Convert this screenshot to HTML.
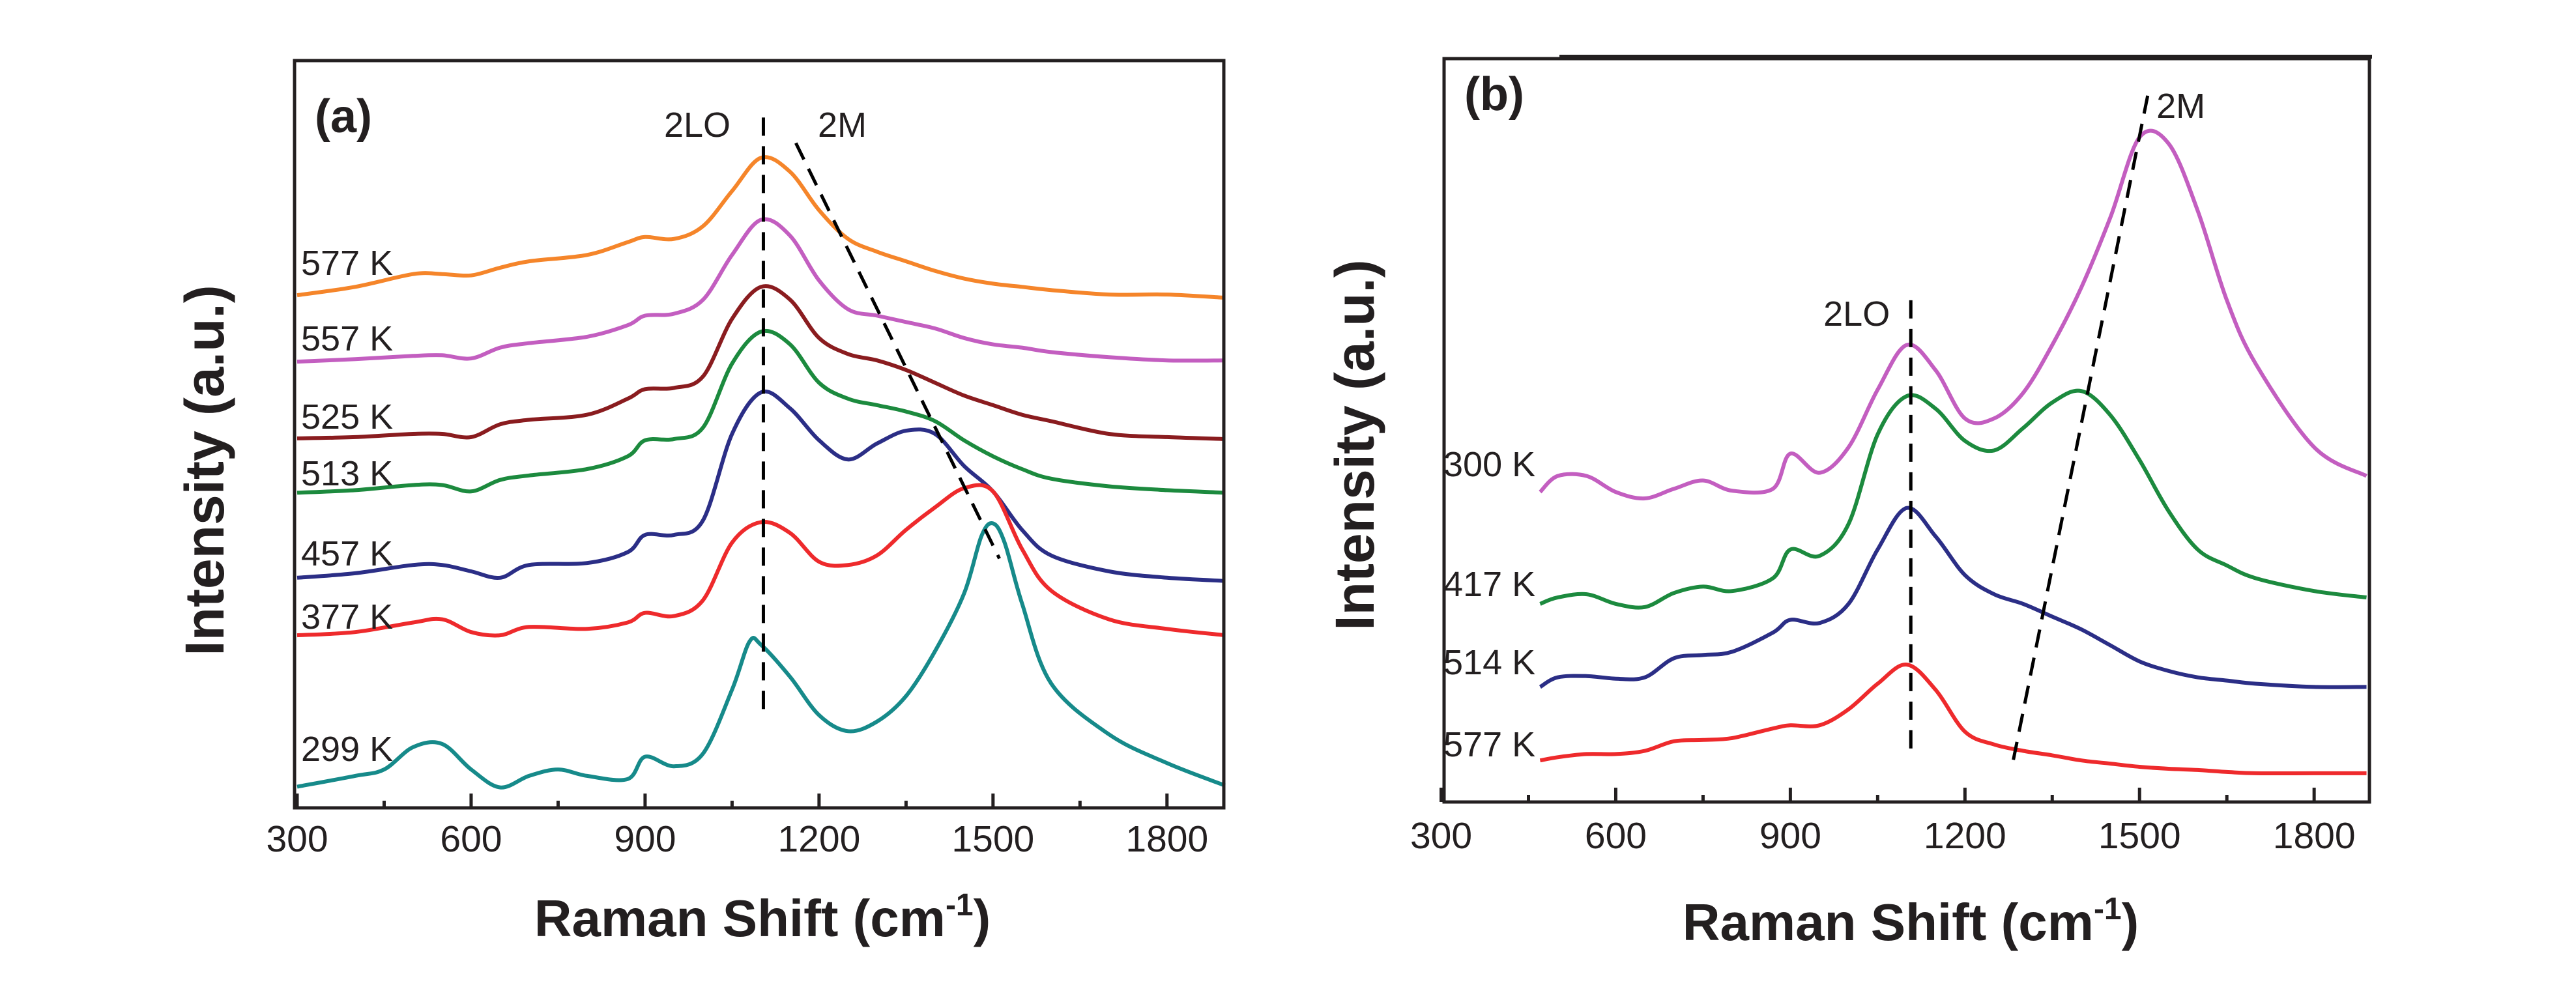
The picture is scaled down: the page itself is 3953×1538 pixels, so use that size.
<!DOCTYPE html>
<html><head><meta charset="utf-8"><style>
html,body{margin:0;padding:0;background:#fff;}
svg{display:block;font-family:"Liberation Sans",sans-serif;}
</style></head><body>
<svg id="fig" width="3953" height="1538" viewBox="0 0 3953 1538" xmlns="http://www.w3.org/2000/svg"></svg>
<script>
// ---------- Panel (a) data ----------
const xA = [300,400,500,550,600,650,700,800,870,900,950,1000,1050,1100,1150,1200,1250,1300,1350,1400,1450,1500,1550,1600,1700,1800,1900];
const a577 = [463,450,430,430,432,420,410,400,380,372,375,355,300,248,270,330,375,395,410,425,437,445,450,455,462,462,467];
const a557 = [567,563,558,557,562,545,538,528,510,495,492,470,400,345,370,440,485,495,505,515,530,540,545,552,560,565,565];
const a525 = [687,685,680,680,685,665,658,650,625,610,608,590,500,450,470,530,555,565,580,600,620,635,650,660,680,685,688];
const a513 = [772,768,760,760,770,752,745,735,715,690,688,670,570,520,540,600,625,635,645,660,690,715,735,750,762,768,772];
const a457 = [905,898,885,885,895,905,885,882,865,838,838,815,680,615,640,690,720,695,675,680,730,770,830,870,895,905,910];
const a377 = [995,990,975,970,990,995,982,985,975,960,965,940,850,818,835,880,885,870,830,795,765,770,860,925,970,985,995];
const xA299 = [300,400,450,500,550,600,650,700,750,800,870,900,950,1000,1050,1080,1100,1150,1200,1250,1300,1350,1400,1450,1480,1500,1520,1550,1600,1700,1800,1900];
const a299 = [1232,1215,1205,1170,1165,1205,1233,1215,1205,1215,1220,1185,1200,1180,1080,1005,1010,1060,1120,1145,1130,1090,1020,930,840,820,850,945,1070,1150,1195,1230];
const seriesA = [
 {name:'577 K', x:xA, v:a577, c:'#f5852a', lab:422},
 {name:'557 K', x:xA, v:a557, c:'#c35ec0', lab:538},
 {name:'525 K', x:xA, v:a525, c:'#8a1c1f', lab:658},
 {name:'513 K', x:xA, v:a513, c:'#1c8a3e', lab:745},
 {name:'457 K', x:xA, v:a457, c:'#2b2e86', lab:868},
 {name:'377 K', x:xA, v:a377, c:'#ee2a2c', lab:965},
 {name:'299 K', x:xA299, v:a299, c:'#168a8a', lab:1168}
];
// ---------- Panel (b) data ----------
const xB = [470,500,550,600,650,700,750,800,870,900,950,1000,1050,1100,1150,1200,1250,1300,1350,1400,1450,1500,1550,1600,1650,1700,1800,1890];
const b300 = [770,745,745,770,780,765,752,768,765,710,740,700,610,540,580,655,655,615,540,450,340,215,225,330,470,570,700,745];
const b417 = [945,935,930,945,950,928,918,925,905,860,870,820,680,620,640,690,705,670,630,612,650,720,800,860,885,905,925,935];
const b514 = [1075,1060,1058,1062,1060,1030,1025,1020,990,970,975,945,860,795,840,900,930,945,965,985,1010,1035,1050,1060,1065,1070,1075,1075];
const b577 = [1190,1185,1180,1180,1175,1160,1158,1155,1140,1135,1135,1110,1070,1040,1080,1145,1165,1175,1182,1190,1195,1200,1203,1205,1208,1210,1210,1210];
const seriesB = [
 {name:'300 K', v:b300, c:'#c35ec0', lab:731},
 {name:'417 K', v:b417, c:'#1c8a3e', lab:915},
 {name:'514 K', v:b514, c:'#2b2e86', lab:1035},
 {name:'577 K', v:b577, c:'#ee2a2c', lab:1161}
];
const xTicks = [300,600,900,1200,1500,1800];
const xMinor = [450,750,1050,1350,1650];

const NS='http://www.w3.org/2000/svg';
const svg=document.getElementById('fig');
function el(tag,attrs,parent){const e=document.createElementNS(NS,tag);for(const k in attrs)e.setAttribute(k,attrs[k]);(parent||svg).appendChild(e);return e;}

function smoothPath(pts){
  let d='M'+pts[0][0].toFixed(1)+','+pts[0][1].toFixed(1);
  for(let i=0;i<pts.length-1;i++){
    const p0=pts[i-1]||pts[i],p1=pts[i],p2=pts[i+1],p3=pts[i+2]||p2;
    const c1x=p1[0]+(p2[0]-p0[0])/6,c1y=p1[1]+(p2[1]-p0[1])/6;
    const c2x=p2[0]-(p3[0]-p1[0])/6,c2y=p2[1]-(p3[1]-p1[1])/6;
    d+=' C'+c1x.toFixed(1)+','+c1y.toFixed(1)+' '+c2x.toFixed(1)+','+c2y.toFixed(1)+' '+p2[0].toFixed(1)+','+p2[1].toFixed(1);
  }
  return d;
}

function panel(cfg){
  const g=el('g',{});
  
  
  const X=v=>cfg.L+(v-cfg.x0)*(cfg.R-cfg.L)/(cfg.x1-cfg.x0);
  const Y=v=>cfg.B-(v-cfg.vb)*(cfg.B-cfg.T)/(cfg.vt-cfg.vb);
  cfg.series.forEach(s=>{
    const xs=s.x||cfg.xs;
    const pts=xs.map((x,i)=>[X(x),Y(cfg.conv(s.v[i]))]);
    const p=el('path',{d:smoothPath(pts),fill:'none',stroke:s.c,'stroke-width':6,'stroke-linejoin':'round'},g);
    
    
    const t=el('text',{x:cfg.labX,y:s.lab,'font-size':54,fill:'#231f20'},g);
    t.textContent=s.name;
    
    
  });
  cfg.guides.forEach(gd=>{
    const l=el('line',{x1:X(gd[0]),y1:Y(gd[1]),x2:X(gd[2]),y2:Y(gd[3]),stroke:'#000','stroke-width':5,'stroke-dasharray':'28,16'},g);
    
    
  });
  cfg.notes.forEach(n=>{
    const t=el('text',{x:X(n[0]),y:Y(n[1]),'font-size':54,fill:'#231f20','text-anchor':n[3]},g);
    t.textContent=n[2];
    
    
  });
  const f=el('rect',{x:cfg.L,y:cfg.T,width:cfg.R-cfg.L,height:cfg.B-cfg.T,fill:'none',stroke:'#231f20','stroke-width':5},g);
  
  
  xTicks.forEach(v=>{
    const t=el('line',{x1:X(v),x2:X(v),y1:cfg.B,y2:cfg.B-22,stroke:'#231f20','stroke-width':5},g);
    
    
    const tl=el('text',{x:X(v),y:cfg.tickY,'font-size':57,'text-anchor':'middle',fill:'#231f20'},g);
    tl.textContent=v;
    
    
  });
  xMinor.forEach(v=>{
    const t=el('line',{x1:X(v),x2:X(v),y1:cfg.B,y2:cfg.B-11,stroke:'#231f20','stroke-width':5},g);
    
    
  });
  const pl=el('text',{x:cfg.letter[0],y:cfg.letter[1],'font-size':72,'font-weight':'bold',fill:'#231f20'},g);
  pl.textContent=cfg.letter[2];
  
  
  const xt=el('text',{x:cfg.xt[0],y:cfg.xt[1],'font-size':80,'font-weight':'bold','text-anchor':'middle',fill:'#231f20'},g);
  
  
  xt.appendChild(document.createTextNode('Raman Shift (cm'));
  const sup=el('tspan',{'font-size':48,dy:-32},xt);
  sup.textContent='-1';
  const cl=el('tspan',{dy:32},xt);
  cl.textContent=')';
  const yt=el('text',{x:0,y:0,'font-size':84,'font-weight':'bold','text-anchor':'middle',fill:'#231f20',transform:'translate('+cfg.yt[0]+','+cfg.yt[1]+') rotate(-90)'},g);
  yt.textContent='Intensity (a.u.)';
  
  
}

panel({id:'panel-a',L:452,R:1878,T:93,B:1240,x0:295.5,x1:1898,vb:0,vt:1169,conv:v=>1265-v,
  series:seriesA,labX:462,tickY:1307,letter:[483,203,'(a)'],xt:[1170,1437],yt:[343,722],
  guides:[[1104,1080,1104,150,'2lo-guide'],[1160,1040,1511,390,'2m-guide']],
  notes:[[990,1050,'2LO','middle','2lo-label'],[1240,1050,'2M','middle','2m-label']]});

panel({id:'panel-b',L:2216,R:3636,T:90,B:1231,x0:305,x1:1895,vb:0,vt:1163,conv:v=>1255-v,
  series:seriesB,xs:xB,labX:2215,tickY:1302,letter:[2247,169,'(b)'],xt:[2932,1443],yt:[2108,683],
  guides:[[1107,785,1107,80,'2lo-guide'],[1514,1105,1283,65,'2m-guide']],
  notes:[[1014,745,'2LO','middle','2lo-label'],[1529,1070,'2M','start','2m-label']]});

const topLine=el('line',{x1:2393,x2:3640,y1:87,y2:87,stroke:'#231f20','stroke-width':6});


</script>
</body></html>
